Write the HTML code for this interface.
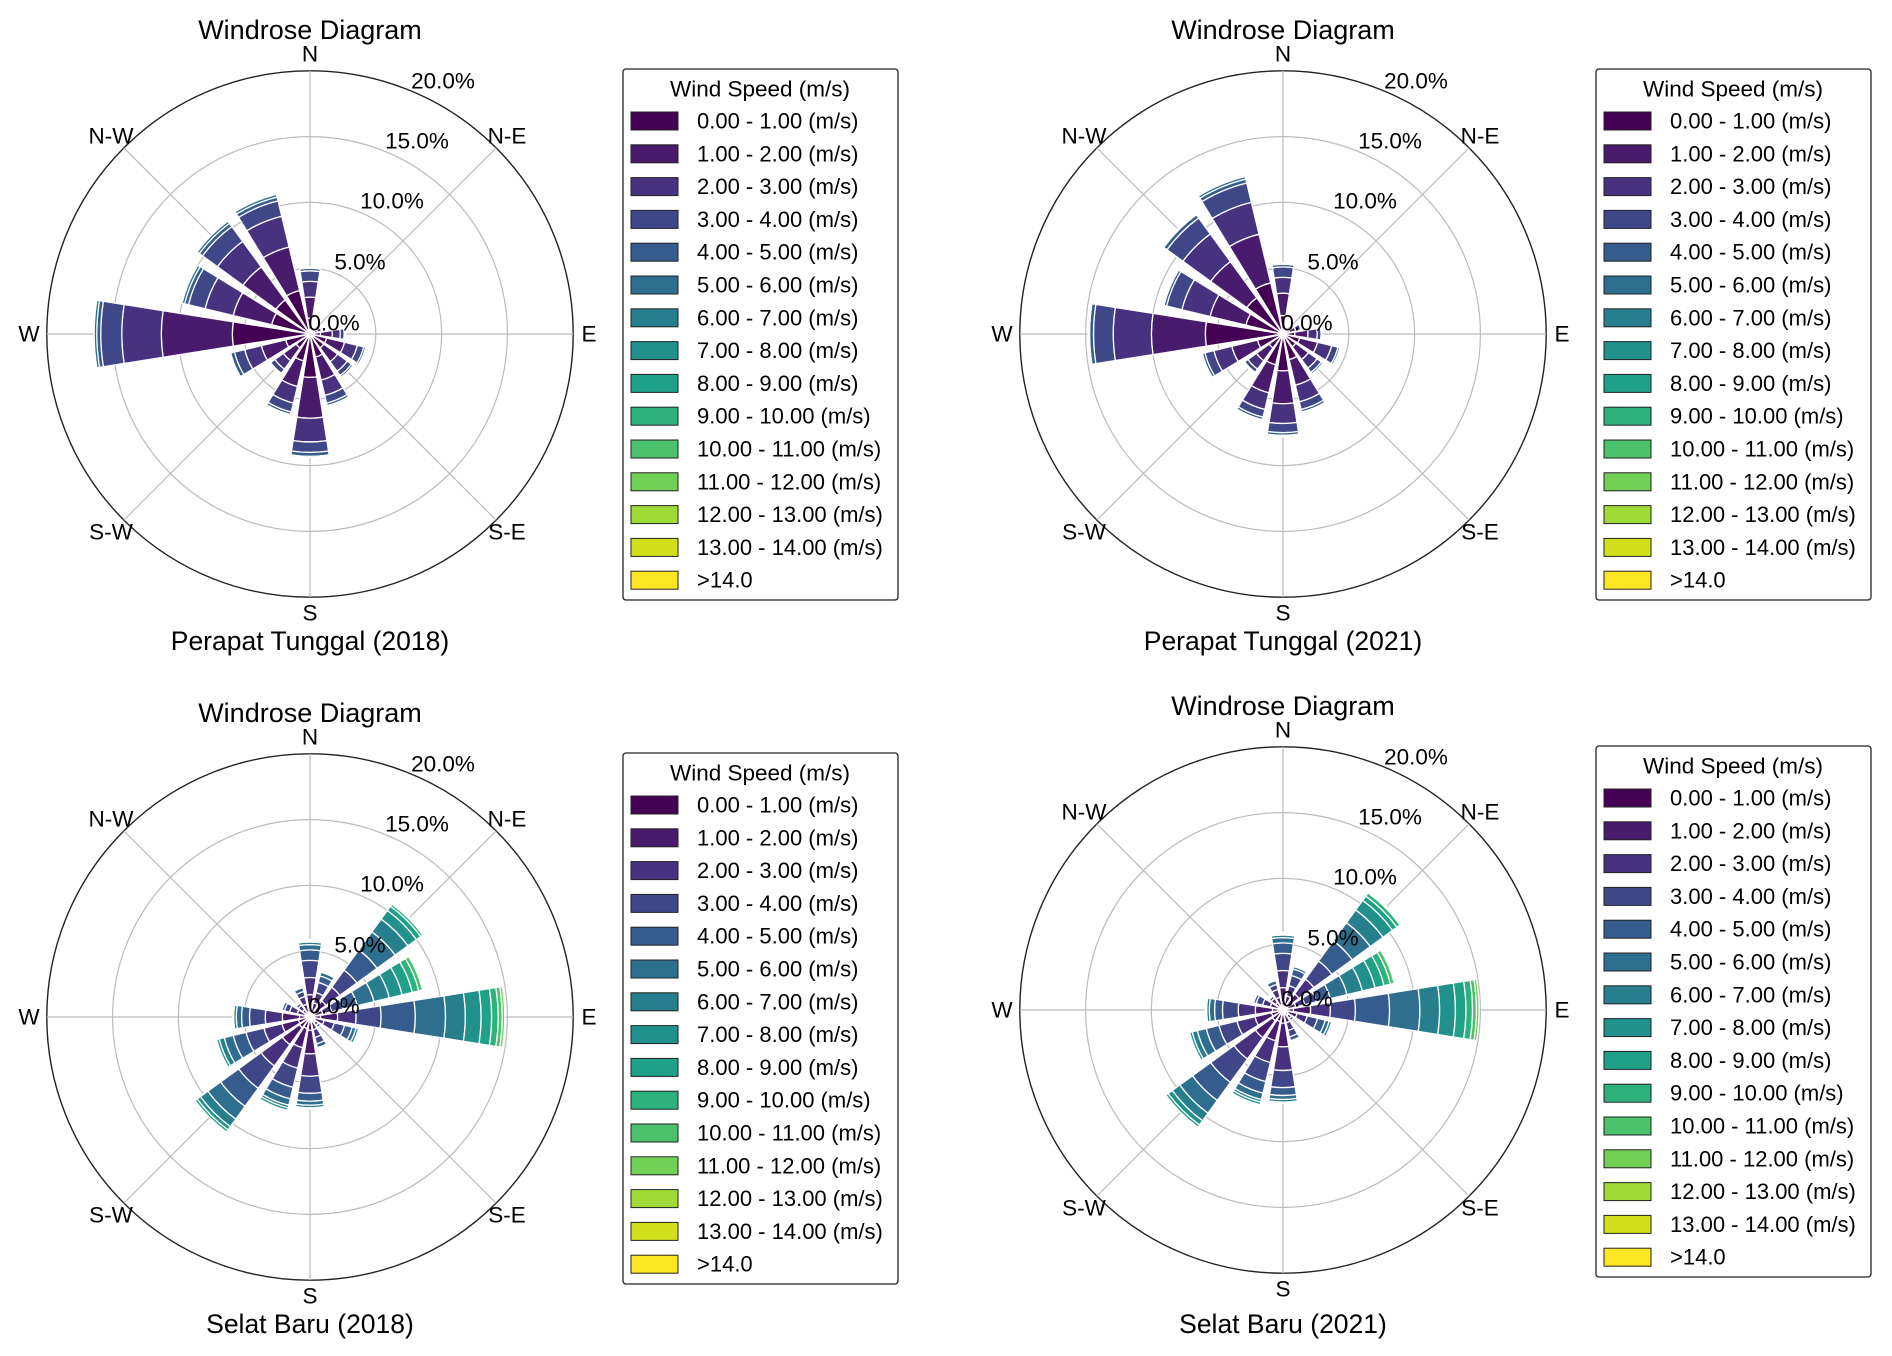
<!DOCTYPE html>
<html><head><meta charset="utf-8"><style>
html,body{margin:0;padding:0;background:#fff;}
svg{display:block;font-family:"Liberation Sans",Arial,sans-serif;}
</style></head><body>
<svg id="chart" width="1892" height="1356" viewBox="0 0 1892 1356" xmlns="http://www.w3.org/2000/svg"></svg>
<script>
// ---- data (percent frequency per direction, stacked by wind-speed bin) ----
const directions = ["N","NNE","NE","ENE","E","ESE","SE","SSE","S","SSW","SW","WSW","W","WNW","NW","NNW"];
const binLabels = ["0.00 - 1.00 (m/s)","1.00 - 2.00 (m/s)","2.00 - 3.00 (m/s)","3.00 - 4.00 (m/s)","4.00 - 5.00 (m/s)","5.00 - 6.00 (m/s)","6.00 - 7.00 (m/s)","7.00 - 8.00 (m/s)","8.00 - 9.00 (m/s)","9.00 - 10.00 (m/s)","10.00 - 11.00 (m/s)","11.00 - 12.00 (m/s)","12.00 - 13.00 (m/s)","13.00 - 14.00 (m/s)",">14.0"];
const binColors = ["#440154","#481b6d","#46327e","#3f4788","#365c8d","#2e6e8e","#277f8e","#21918c","#1fa187","#2db27d","#4ac16d","#73d056","#a0da39","#d0e11c","#fde725"];
const ringTicks = ["5.0%","10.0%","15.0%","20.0%"];
const ringValues = [5,10,15,20];

const perapat2018 = [
 [1.2,1.6,1.2,0.8,0.2,0.1],[0.2,0.2,0.1],[0.2,0.2,0.1],[0.3,0.3,0.3,0.1],
 [0.8,0.9,0.6,0.3,0.1],[1.3,1.4,1.0,0.5,0.15,0.05],[1.3,1.3,0.9,0.4,0.15,0.05],[1.8,1.8,1.2,0.6,0.2,0.1],
 [3.3,3.1,1.8,0.8,0.3,0.1],[2.1,2.0,1.3,0.7,0.2,0.1],[1.3,1.2,0.8,0.4,0.1],[1.9,1.9,1.3,0.8,0.3,0.1],
 [5.9,5.4,3.0,1.6,0.3,0.2],[3.0,3.0,2.2,1.3,0.3,0.2],[3.2,3.1,2.4,1.4,0.3,0.2],[3.4,3.4,2.4,1.2,0.3,0.2]];
const perapat2021 = [
 [1.4,1.7,1.2,0.8,0.2,0.1],[0.2,0.2,0.1],[0.2,0.2,0.1],[0.5,0.5,0.4,0.1],
 [0.9,1.0,0.7,0.3,0.1],[1.3,1.4,1.1,0.5,0.15,0.05],[1.2,1.2,0.8,0.4,0.15,0.05],[2.0,2.0,1.3,0.6,0.2,0.1],
 [2.8,2.5,1.5,0.7,0.2,0.1],[2.4,2.2,1.3,0.6,0.2,0.1],[1.3,1.2,0.8,0.3,0.1],[2.0,2.0,1.4,0.7,0.2,0.1],
 [5.9,4.1,2.9,1.5,0.3,0.1],[2.9,2.8,2.2,1.2,0.2,0.1],[3.4,3.4,2.6,1.5,0.3,0.1],[4.0,3.8,2.5,1.5,0.3,0.2]];
const selat2018 = [
 [0.6,1.1,1.3,1.3,0.8,0.4,0.2,0.1,0.1],[0.4,0.7,0.8,0.8,0.5,0.3,0.1,0.1],
 [0.5,1.0,1.3,1.6,1.9,1.7,1.2,0.8,0.4,0.2,0.1],[0.4,0.6,0.7,0.9,1.1,1.3,1.2,1.0,0.8,0.5,0.3,0.1],
 [0.8,1.3,1.4,1.9,2.6,2.3,1.5,1.2,0.8,0.5,0.3,0.2],[0.4,0.7,0.8,0.8,0.6,0.3,0.2,0.1],
 [0.2,0.3,0.3,0.2],[0.4,0.6,0.6,0.5,0.3,0.1],
 [1.0,1.8,1.7,1.3,0.6,0.3,0.2,0.1],[0.9,1.5,1.6,1.5,0.9,0.5,0.2,0.2],
 [1.0,1.6,2.0,2.1,1.7,1.2,0.7,0.3,0.2],[0.9,1.3,1.4,1.4,1.0,0.7,0.4,0.2,0.1],
 [0.8,1.3,1.3,1.2,0.6,0.4,0.2,0.1],[0.4,0.6,0.6,0.4,0.2,0.1,0.1],
 [0.3,0.4,0.4,0.2,0.1,0.1],[0.4,0.6,0.6,0.4,0.3,0.1,0.1]];
const selat2021 = [
 [0.6,1.1,1.3,1.3,0.8,0.4,0.2,0.1,0.1],[0.4,0.7,0.8,0.8,0.5,0.2,0.1,0.1],
 [0.5,1.0,1.4,1.7,1.9,1.7,1.2,0.9,0.4,0.3,0.1],[0.4,0.6,0.7,0.9,1.1,1.3,1.2,1.0,0.7,0.5,0.3,0.1],
 [0.8,1.3,1.5,1.9,2.6,2.3,1.5,1.2,0.8,0.5,0.3,0.2],[0.4,0.7,0.8,0.8,0.6,0.3,0.2,0.1],
 [0.2,0.3,0.3,0.2],[0.4,0.6,0.6,0.5,0.3,0.1],
 [1.0,1.8,1.8,1.3,0.6,0.3,0.2,0.1],[0.9,1.5,1.7,1.5,0.9,0.5,0.2,0.2],
 [1.0,1.6,2.0,2.2,1.7,1.2,0.7,0.4,0.2],[0.9,1.3,1.4,1.4,1.0,0.7,0.4,0.2,0.1],
 [0.8,1.3,1.3,1.2,0.6,0.4,0.2,0.1],[0.4,0.6,0.6,0.5,0.2,0.1,0.1],
 [0.3,0.4,0.4,0.2,0.1,0.1],[0.4,0.6,0.6,0.4,0.3,0.1,0.1]];

const panels = [
 {key:"perapat-2018", data:perapat2018, cx:310, cy:334, title:"Perapat Tunggal (2018)", titleY:30, subY:641, legX:623, legY:69},
 {key:"perapat-2021", data:perapat2021, cx:1283, cy:334, title:"Perapat Tunggal (2021)", titleY:30, subY:641, legX:1596, legY:69},
 {key:"selat-2018", data:selat2018, cx:310, cy:1017, title:"Selat Baru (2018)", titleY:713, subY:1324, legX:623, legY:753},
 {key:"selat-2021", data:selat2021, cx:1283, cy:1010, title:"Selat Baru (2021)", titleY:706, subY:1324, legX:1596, legY:746}
];

const NS = "http://www.w3.org/2000/svg";
const svg = document.getElementById("chart");
const RMAX = 263.2, VMAX = 20;
function rScale(v){ return v / VMAX * RMAX; }
function mk(tag, attrs, parent){
  const e = document.createElementNS(NS, tag);
  for (const k in attrs) e.setAttribute(k, attrs[k]);
  (parent||svg).appendChild(e); return e;
}
function txt(parent, x, y, s, size, anchor){
  const t = mk("text", {x:x, y:y, "font-size":size, "text-anchor":anchor||"middle", "dominant-baseline":"central", fill:"#000"}, parent);
  t.textContent = s; return t;
}
function pt(cx, cy, r, deg){ const a = deg*Math.PI/180; return [cx + r*Math.sin(a), cy - r*Math.cos(a)]; }

panels.forEach(p => {
  const g = mk("g", {});
  
  
  const cx = p.cx, cy = p.cy;
  ringValues.forEach((v,i) => {
    const c = mk("circle", {cx:cx, cy:cy, r:rScale(v), fill:"none", stroke: i===3 ? "#222" : "#bbbbbb", "stroke-width": i===3 ? 1.4 : 1.2}, g);
    
    
  });
  for (let k=0;k<8;k++){
    const [x2,y2] = pt(cx,cy,RMAX,k*45);
    const l = mk("line", {x1:cx, y1:cy, x2:x2, y2:y2, stroke:"#bbbbbb", "stroke-width":1.2}, g);
    
    
  }
  p.data.forEach((bins, di) => {
    const ang = di * 22.5, hw = 9;
    let cum = 0;
    bins.forEach((v, bi) => {
      const r0 = rScale(cum), r1 = rScale(cum + v);
      cum += v;
      const a = pt(cx,cy,r0,ang-hw), b = pt(cx,cy,r1,ang-hw), c = pt(cx,cy,r1,ang+hw), d = pt(cx,cy,r0,ang+hw);
      const dstr = `M${a[0]},${a[1]} L${b[0]},${b[1]} A${r1},${r1} 0 0 1 ${c[0]},${c[1]} L${d[0]},${d[1]} A${r0},${r0} 0 0 0 ${a[0]},${a[1]} Z`;
      const path = mk("path", {d:dstr, fill:binColors[bi], stroke:"#fff", "stroke-width":1.3}, g);
      
      
    });
  });
  const rl = [[443,81],[417,141],[392,201],[360,262],[334,323]];
  const rlTxt = ["20.0%","15.0%","10.0%","5.0%","0.0%"];
  rl.forEach((q,i) => {
    const t = txt(g, cx + (q[0]-310), cy + (q[1]-334), rlTxt[i], 22.5);
    
    
  });
  const comp = [["N",0,-280],["S",0,279],["E",279,0],["W",-281,0],["N-E",197,-198],["N-W",-199,-198],["S-W",-199,198],["S-E",197,198]];
  comp.forEach(c => {
    const t = txt(g, cx + c[1], cy + c[2], c[0], 22.5);
    
    
  });
  const tt = txt(g, cx, p.titleY, "Windrose Diagram", 27);
  
  
  const st = txt(g, cx, p.subY, p.title, 26.5);
  
  
  const lg = mk("g", {}, g);
  
  
  const box = mk("rect", {x:p.legX, y:p.legY, width:275, height:531, rx:3, fill:"#fff", stroke:"#222", "stroke-width":1.3}, lg);
  
  
  const lt = txt(lg, p.legX + 137, p.legY + 20, "Wind Speed (m/s)", 22.5);
  
  
  binLabels.forEach((lab, i) => {
    const y = p.legY + 52 + i*32.8;
    const e = mk("g", {}, lg);
    
    
    const sw = mk("rect", {x:p.legX+8, y:y-9, width:47, height:18, fill:binColors[i], stroke:"#222", "stroke-width":1}, e);
    
    
    const t = txt(e, p.legX + 74, y, lab, 22, "start");
    
    
  });
});
</script>
</body></html>
